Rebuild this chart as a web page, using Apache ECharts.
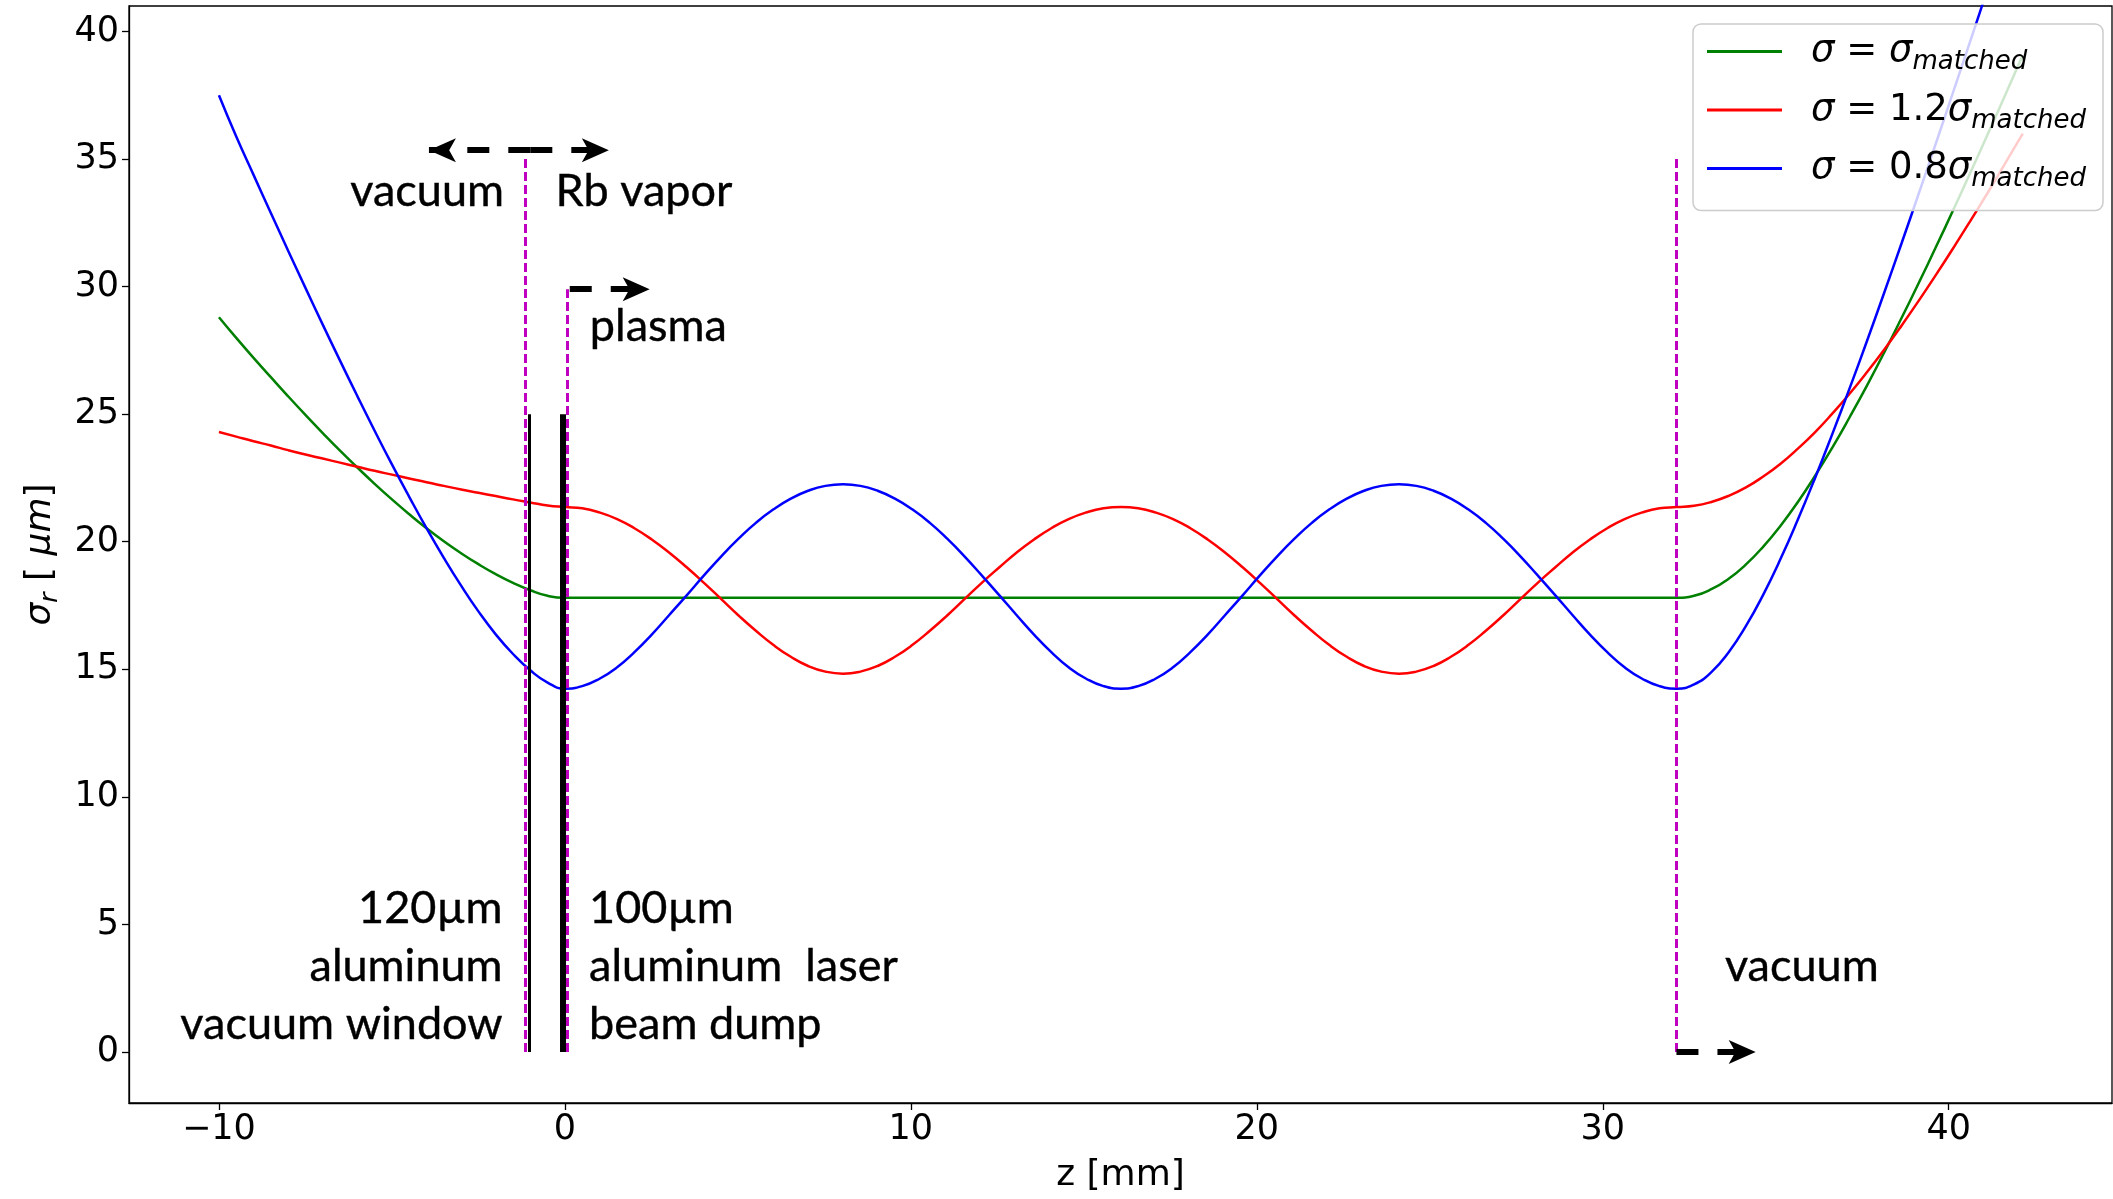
<!DOCTYPE html>
<html>
<head>
<meta charset="utf-8">
<script src="https://cdn.jsdelivr.net/npm/echarts@6/dist/echarts.min.js"></script>
<style>
  html, body { margin: 0; padding: 0; background: #fff; }
  #main { width: 2113px; height: 1199px; }
</style>
</head>
<body>
<div id="main"></div>
<script>
const zMM = [
  -10, -9.5, -9, -8.5, -8, -7.5, -7, -6.5, -6, -5.5, -5, -4.5, -4, -3.5, -3, -2.5, -2, -1.5, -1, -0.5,
  0, 0.50, 1.00, 1.51, 2.01, 2.51, 3.01, 3.52, 4.02, 4.52, 5.02, 5.52, 6.03, 6.53, 7.03, 7.53,
  8.04, 8.54, 9.04, 9.54, 10.04, 10.55, 11.05, 11.55, 12.05, 12.56, 13.06, 13.56, 14.06, 14.56, 15.07, 15.57,
  16.07, 16.57, 17.07, 17.58, 18.08, 18.58, 19.08, 19.59, 20.09, 20.59, 21.09, 21.59, 22.10, 22.60, 23.10, 23.60,
  24.11, 24.61, 25.11, 25.61, 26.11, 26.62, 27.12, 27.62, 28.12, 28.63, 29.13, 29.63, 30.13, 30.63, 31.14, 31.64,
  32.14, 32.64, 33.14, 33.64, 34.14, 34.64, 35.14, 35.64, 36.14, 36.64, 37.14, 37.64, 38.14, 38.64, 39.14, 39.64,
  40.14, 40.64, 41.14, 41.64, 42.14];

// sigma_r [um]
const sigmaMatched = [
  28.80, 27.99, 27.21, 26.45, 25.70, 24.97, 24.26, 23.57, 22.91, 22.27, 21.66, 21.08, 20.53, 20.02, 19.55, 19.12, 18.73, 18.39, 18.10, 17.88,
  17.80, 17.80, 17.80, 17.80, 17.80, 17.80, 17.80, 17.80, 17.80, 17.80, 17.80, 17.80, 17.80, 17.80, 17.80, 17.80,
  17.80, 17.80, 17.80, 17.80, 17.80, 17.80, 17.80, 17.80, 17.80, 17.80, 17.80, 17.80, 17.80, 17.80, 17.80, 17.80,
  17.80, 17.80, 17.80, 17.80, 17.80, 17.80, 17.80, 17.80, 17.80, 17.80, 17.80, 17.80, 17.80, 17.80, 17.80, 17.80,
  17.80, 17.80, 17.80, 17.80, 17.80, 17.80, 17.80, 17.80, 17.80, 17.80, 17.80, 17.80, 17.80, 17.80, 17.80, 17.80,
  17.80, 17.88, 18.14, 18.55, 19.11, 19.81, 20.63, 21.56, 22.59, 23.70, 24.89, 26.13, 27.43, 28.78, 30.16, 31.58,
  33.03, 34.51, 36.01, 37.53, 39.07];
const sigma12 = [
  24.30, 24.12, 23.94, 23.77, 23.59, 23.42, 23.26, 23.10, 22.94, 22.78, 22.63, 22.48, 22.33, 22.19, 22.05, 21.92, 21.79, 21.66, 21.54, 21.42,
  21.36, 21.31, 21.15, 20.89, 20.53, 20.09, 19.58, 19.00, 18.39, 17.75, 17.11, 16.51, 15.95, 15.49, 15.13, 14.91,
  14.83, 14.91, 15.13, 15.49, 15.95, 16.51, 17.11, 17.75, 18.39, 19.00, 19.58, 20.09, 20.53, 20.89, 21.15, 21.31,
  21.36, 21.31, 21.15, 20.89, 20.53, 20.09, 19.58, 19.00, 18.39, 17.75, 17.11, 16.51, 15.95, 15.49, 15.13, 14.91,
  14.83, 14.91, 15.13, 15.49, 15.95, 16.51, 17.11, 17.75, 18.39, 19.00, 19.58, 20.09, 20.53, 20.89, 21.15, 21.31,
  21.36, 21.41, 21.56, 21.80, 22.13, 22.56, 23.06, 23.65, 24.30, 25.03, 25.81, 26.65, 27.54, 28.48, 29.46, 30.48,
  31.53, 32.61, 33.71, 34.85, 36.00];
const sigma08 = [
  37.50, 35.88, 34.38, 32.89, 31.41, 29.95, 28.51, 27.10, 25.71, 24.35, 23.03, 21.76, 20.53, 19.37, 18.28, 17.27, 16.37, 15.60, 14.96, 14.48,
  14.24, 14.34, 14.63, 15.08, 15.67, 16.36, 17.12, 17.90, 18.68, 19.43, 20.12, 20.74, 21.27, 21.69, 22.00, 22.19,
  22.25, 22.19, 22.00, 21.69, 21.27, 20.74, 20.12, 19.43, 18.68, 17.90, 17.12, 16.36, 15.67, 15.08, 14.63, 14.34,
  14.24, 14.34, 14.63, 15.08, 15.67, 16.36, 17.12, 17.90, 18.68, 19.43, 20.12, 20.74, 21.27, 21.69, 22.00, 22.19,
  22.25, 22.19, 22.00, 21.69, 21.27, 20.74, 20.12, 19.43, 18.68, 17.90, 17.12, 16.36, 15.67, 15.08, 14.63, 14.34,
  14.24, 14.41, 14.89, 15.67, 16.70, 17.93, 19.33, 20.87, 22.51, 24.24, 26.03, 27.88, 29.78, 31.71, 33.67, 35.66,
  37.67, 39.69, 41.74, 43.79, 45.86];

const curveNames = ['σ = σmatched', 'σ = 1.2σmatched', 'σ = 0.8σmatched'];
const curveFactor = ['', '1.2', '0.8'];
const curveColors = ['#008000', '#ff0000', '#0000ff'];

const xTicks = [-10, 0, 10, 20, 30, 40];
const yTicks = [0, 5, 10, 15, 20, 25, 30, 35, 40];

// text notes
const noteText = ['vacuum', 'Rb vapor', 'plasma', '120µm', 'aluminum', 'vacuum window',
  '100µm', 'aluminum  laser', 'beam dump', 'vacuum'];
const noteZ = [-1.76, -0.27, 0.72, -1.80, -1.80, -1.80, 0.70, 0.70, 0.70, 33.53];
const noteV = [33.74, 33.74, 28.44, 5.61, 3.34, 1.08, 5.61, 3.34, 1.08, 3.34];
const noteSide = ['left', 'right', 'right', 'left', 'left', 'left', 'right', 'right', 'right', 'right'];

// foils (solid black), region edges (magenta dashed), dashed arrows
const foilZ = [-1.04, -0.07];
const foilWidth = [3, 6];
const foilTop = 25;
const edgeZ = [-1.15, 0.08, 32.13];
const edgeTop = [35, 29.9, 35];
const arrowStart = [[-1.0, 35.35], [-1.0, 35.35], [0.14, 29.9], [32.13, 0]];
const arrowEnd = [[-3.93, 35.35], [1.27, 35.35], [2.45, 29.9], [34.42, 0]];

const chart = echarts.init(document.getElementById('main'));

function pairs (ys) {
  return zMM.map((z, i) => [z, ys[i]]);
}

const tickFmt = v => (v < 0 ? '\u2212' + Math.abs(v) : String(v));

const curves = [sigmaMatched, sigma12, sigma08].map((ys, i) => ({
  name: curveNames[i],
  type: 'line',
  data: pairs(ys),
  smooth: 0.5,
  showSymbol: false,
  symbol: 'none',
  clip: true,
  z: 2,
  itemStyle: { color: curveColors[i] },
  lineStyle: { color: curveColors[i], width: 2.5 }
}));

chart.setOption({
  animation: false,
  backgroundColor: '#fff',
  grid: {
    left: 129, right: 1, top: 6, bottom: 94,
    show: true, borderColor: '#000', borderWidth: 1.3, backgroundColor: 'transparent'
  },
  xAxis: {
    type: 'value', min: -12.6, max: 44.72,
    name: 'z [mm]', nameLocation: 'middle', nameGap: 55,
    nameTextStyle: { fontFamily: 'DejaVu Sans', fontSize: 36, color: '#000' },
    axisLine: { show: true, onZero: false, lineStyle: { color: '#000', width: 1.3 } },
    axisTick: { show: true, length: 7, customValues: xTicks, lineStyle: { color: '#000', width: 1.3 } },
    axisLabel: { customValues: xTicks, formatter: tickFmt, margin: 9,
      fontFamily: 'DejaVu Sans', fontSize: 35, color: '#000' },
    splitLine: { show: false }
  },
  yAxis: {
    type: 'value', min: -2, max: 41,
    name: '{m|σ}{s|r}{n| [ }{m|μm}{n|]}', nameLocation: 'middle', nameGap: 66,
    nameTextStyle: {
      color: '#000',
      rich: {
        m: { fontFamily: 'DejaVu Sans', fontStyle: 'italic', fontSize: 36, lineHeight: 44, color: '#000' },
        n: { fontFamily: 'DejaVu Sans', fontSize: 36, lineHeight: 44, color: '#000' },
        s: { fontFamily: 'DejaVu Sans', fontStyle: 'italic', fontSize: 25, lineHeight: 27, verticalAlign: 'bottom', color: '#000' }
      }
    },
    axisLine: { show: true, onZero: false, lineStyle: { color: '#000', width: 1.3 } },
    axisTick: { show: true, length: 7, customValues: yTicks, lineStyle: { color: '#000', width: 1.3 } },
    axisLabel: { customValues: yTicks, formatter: tickFmt, margin: 10,
      fontFamily: 'DejaVu Sans', fontSize: 35, color: '#000' },
    splitLine: { show: false }
  },
  legend: {
    data: curveNames,
    orient: 'vertical',
    left: 1693, top: 24,
    padding: [9, 17, 18, 14],
    itemGap: 16,
    itemWidth: 75, itemHeight: 3,
    icon: 'rect',
    backgroundColor: 'rgba(255,255,255,0.8)',
    borderColor: '#cccccc', borderWidth: 1.5, borderRadius: 8,
    selectedMode: false,
    formatter: name => {
      const i = curveNames.indexOf(name);
      return '{gap| }{m|σ}{n| = ' + curveFactor[i] + '}{m|σ}{s|matched}';
    },
    textStyle: {
      rich: {
        gap: { width: 24 },
        m: { fontFamily: 'DejaVu Sans', fontStyle: 'italic', fontSize: 37, lineHeight: 48, color: '#000' },
        n: { fontFamily: 'DejaVu Sans', fontSize: 37, lineHeight: 48, color: '#000' },
        s: { fontFamily: 'DejaVu Sans', fontStyle: 'italic', fontSize: 26, lineHeight: 26, verticalAlign: 'bottom', color: '#000' }
      }
    }
  },
  series: curves.concat([
    {
      name: 'foils',
      type: 'line',
      data: [],
      z: 4,
      markLine: {
        silent: true, animation: false,
        symbol: ['none', 'none'],
        label: { show: false },
        lineStyle: { color: '#000', type: 'solid', width: 3 },
        data: foilZ.map((z, i) => [
          { coord: [z, 0], lineStyle: { color: '#000', type: 'solid', width: foilWidth[i] } },
          { coord: [z, foilTop] }
        ])
      }
    },
    {
      name: 'edges',
      type: 'line',
      data: [],
      z: 5,
      markLine: {
        silent: true, animation: false,
        symbol: ['none', 'none'],
        label: { show: false },
        lineStyle: { color: '#c000c0', type: [9, 4], width: 3 },
        data: edgeZ.map((z, i) => [{ coord: [z, 0] }, { coord: [z, edgeTop[i]] }])
      }
    },
    {
      name: 'arrows',
      type: 'line',
      data: [],
      z: 5,
      markLine: {
        silent: true, animation: false,
        symbol: ['none', 'arrow'],
        symbolSize: [18, 27],
        label: { show: false },
        lineStyle: { color: '#000', type: [22, 19], width: 6 },
        data: arrowStart.map((p, i) => [{ coord: p }, { coord: arrowEnd[i] }])
      }
    },
    {
      name: 'notes',
      type: 'scatter',
      symbolSize: 0,
      z: 6,
      silent: true,
      itemStyle: { opacity: 1 },
      data: noteText.map((t, i) => ({
        value: [noteZ[i], noteV[i]],
        label: {
          show: true,
          formatter: t,
          position: noteSide[i],
          distance: 0,
          fontFamily: 'Lato',
          fontSize: 45,
          color: '#000',
          textBorderColor: '#000',
          textBorderWidth: 0.4
        }
      }))
    }
  ])
});
</script>
</body>
</html>
